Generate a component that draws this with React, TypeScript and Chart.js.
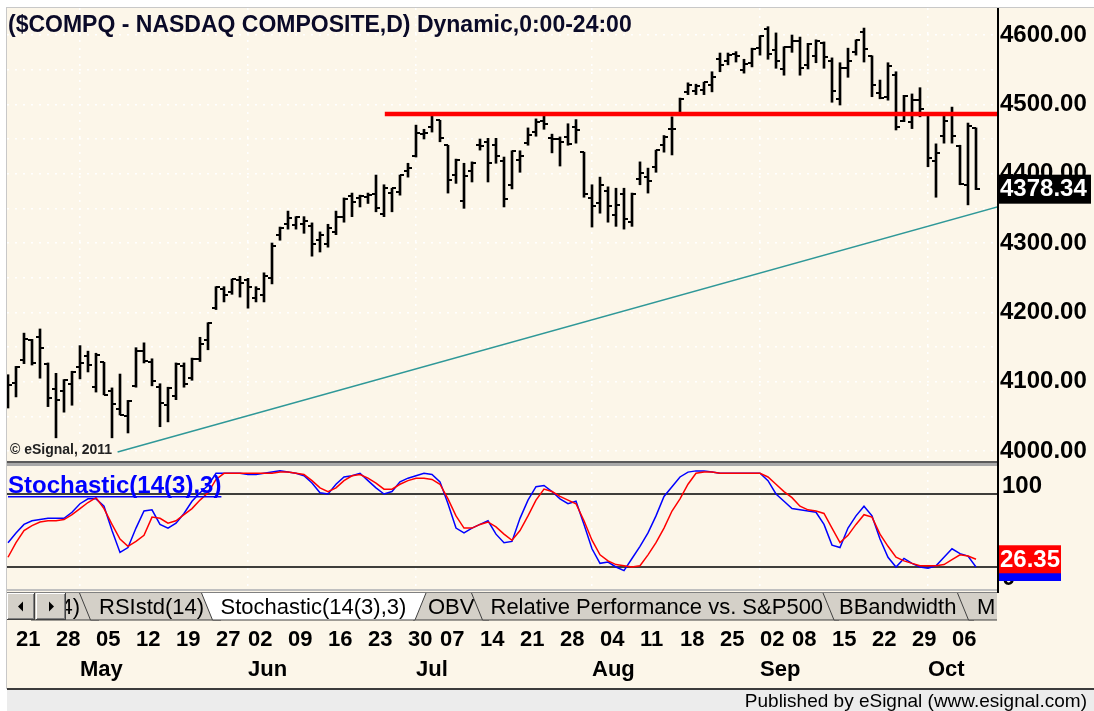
import React, { useEffect, useRef } from 'react';
import { Chart, registerables } from 'chart.js';

Chart.register(...registerables);

const FONT = '"Liberation Sans", Arial, Helvetica, sans-serif';
const BG = '#FCF6E9';

// ---------- daily OHLC, $COMPQ, Apr 17 – Oct 9 (one entry per trading day) ----------
const opens = [
  4080, 4098, 4131, 4160, 4165, 4125, 4090, 4086, 4097, 4121,
  4137, 4092, 4128, 4087, 4061, 4050, 4094, 4144, 4128, 4093,
  4067, 4080, 4122, 4105, 4133, 4160, 4206, 4233, 4230, 4247,
  4247, 4220, 4225, 4250, 4312, 4328, 4326, 4328, 4325, 4304,
  4298, 4316, 4337, 4368, 4365, 4367, 4370, 4342, 4372, 4373,
  4404, 4426, 4457, 4468, 4477, 4441, 4398, 4360, 4404, 4442,
  4446, 4441, 4418, 4383, 4420, 4444, 4460, 4476, 4452, 4450,
  4453, 4468, 4431, 4365, 4357, 4375, 4340, 4370, 4330, 4392,
  4395, 4410, 4442, 4465, 4488, 4518, 4519, 4521, 4528, 4565,
  4563, 4572, 4549, 4560, 4581, 4608, 4578, 4551, 4582, 4592,
  4557, 4570, 4588, 4563, 4508, 4553, 4576, 4604, 4570, 4516,
  4510, 4543, 4476, 4475, 4506, 4487, 4418, 4455, 4486, 4440,
  4384, 4466,
];
const highs = [
  4110, 4122, 4170, 4161, 4176, 4127, 4112, 4103, 4115, 4152,
  4144, 4141, 4128, 4091, 4111, 4073, 4149, 4156, 4133, 4097,
  4092, 4127, 4127, 4134, 4164, 4185, 4237, 4237, 4248, 4252,
  4249, 4237, 4257, 4300, 4323, 4346, 4338, 4338, 4329, 4316,
  4327, 4346, 4365, 4372, 4369, 4372, 4398, 4384, 4379, 4398,
  4415, 4470, 4464, 4486, 4477, 4441, 4421, 4415, 4417, 4450,
  4451, 4451, 4424, 4433, 4433, 4466, 4479, 4485, 4457, 4453,
  4472, 4478, 4431, 4384, 4395, 4381, 4379, 4379, 4372, 4417,
  4408, 4434, 4455, 4482, 4509, 4531, 4529, 4532, 4547, 4574,
  4574, 4576, 4565, 4581, 4599, 4612, 4603, 4583, 4600, 4597,
  4588, 4593, 4590, 4567, 4560, 4581, 4593, 4610, 4570, 4535,
  4560, 4547, 4513, 4515, 4524, 4488, 4443, 4488, 4496, 4441,
  4473, 4466,
];
const lows = [
  4062, 4078, 4126, 4124, 4105, 4064, 4019, 4056, 4066, 4104,
  4114, 4085, 4081, 4019, 4052, 4026, 4092, 4127, 4094, 4035,
  4042, 4074, 4092, 4102, 4129, 4146, 4204, 4215, 4226, 4222,
  4206, 4215, 4215, 4241, 4304, 4320, 4320, 4314, 4281, 4287,
  4294, 4312, 4330, 4338, 4352, 4357, 4345, 4338, 4345, 4369,
  4395, 4424, 4450, 4460, 4446, 4372, 4386, 4350, 4388, 4434,
  4388, 4415, 4352, 4378, 4402, 4441, 4454, 4464, 4430, 4411,
  4441, 4444, 4366, 4323, 4343, 4330, 4324, 4320, 4324, 4384,
  4372, 4402, 4431, 4427, 4485, 4514, 4514, 4514, 4518, 4547,
  4557, 4561, 4545, 4554, 4571, 4565, 4552, 4542, 4575, 4542,
  4551, 4560, 4552, 4503, 4499, 4539, 4571, 4561, 4511, 4508,
  4506, 4463, 4475, 4465, 4482, 4410, 4366, 4444, 4444, 4384,
  4355, 4377,
];
const closes = [
  4095, 4121, 4161, 4127, 4148, 4076, 4074, 4103, 4114, 4127,
  4124, 4138, 4081, 4068, 4052, 4072, 4144, 4130, 4101, 4069,
  4091, 4126, 4097, 4132, 4154, 4185, 4237, 4225, 4248, 4243,
  4237, 4234, 4252, 4296, 4321, 4336, 4338, 4332, 4298, 4311,
  4321, 4337, 4363, 4359, 4368, 4369, 4350, 4380, 4379, 4398,
  4408, 4459, 4458, 4486, 4452, 4391, 4419, 4396, 4415, 4440,
  4416, 4426, 4363, 4432, 4425, 4456, 4474, 4472, 4450, 4445,
  4443, 4463, 4370, 4353, 4384, 4353, 4355, 4335, 4371, 4401,
  4389, 4434, 4453, 4465, 4508, 4528, 4526, 4532, 4539, 4557,
  4571, 4570, 4558, 4580, 4598, 4573, 4562, 4583, 4592, 4552,
  4587, 4592, 4568, 4519, 4553, 4562, 4593, 4580, 4528, 4509,
  4555, 4467, 4512, 4506, 4493, 4422, 4430, 4476, 4455, 4385,
  4469, 4378.34,
];

// ---------- Stochastic(14(3),3): %K (blue) and %D (red) ----------
const stochK = [
  40, 48, 55, 58, 59, 60, 60, 60, 65, 72,
  76, 76, 70, 50, 32, 36, 52, 66, 67, 55,
  52, 56, 64, 74, 81, 87, 97, 97, 97, 97,
  96, 96, 97, 98, 99, 98, 97, 95, 89, 81,
  80, 88, 94, 95, 97, 91, 85, 80, 82, 90,
  93, 95, 97, 96, 90, 72, 52, 48, 52, 55,
  58, 47, 40, 41, 60, 75, 86, 87, 82, 76,
  72, 74, 55, 35, 23, 24, 20, 17, 27, 37,
  48, 62, 78, 86, 94, 98, 99, 99, 98, 97,
  97, 97, 97, 97, 97, 91, 80, 74, 68, 67,
  66, 65, 55, 38, 36, 52, 62, 70, 62, 43,
  28, 20, 27, 23, 20, 19, 21, 28, 35, 31,
  29, 20,
];
const stochD = [
  28, 40, 50, 54, 57, 58, 58, 59, 63, 68,
  73, 77, 68, 55, 43, 37, 41, 46, 61, 60,
  56, 58, 63, 68, 75, 81, 92, 97, 97, 97,
  97, 97, 97, 97, 98, 98, 97, 96, 91, 85,
  82, 85, 91, 95, 96, 93, 89, 84, 84, 88,
  91, 93, 93, 92, 88, 76, 62, 52, 52, 55,
  57, 53, 47, 42, 50, 62, 75, 84, 82, 78,
  75, 72, 58, 42, 30, 25, 22, 21, 20, 21,
  30, 40, 52, 66, 76, 88, 97, 98, 98, 97,
  97, 97, 97, 97, 97, 94, 88, 82, 77, 70,
  67, 66, 64, 52, 40, 46, 55, 63, 61, 47,
  37, 28, 25, 23, 21, 21, 21, 22, 26, 30,
  29, 26.35,
];

// ---------- axis labels (positions are trading-day indexes) ----------
const weekTickIdx = [1, 6, 11, 16, 21, 26, 30, 35, 40, 45, 50, 54, 59, 64, 69, 74, 79, 84, 89, 94, 98, 103, 108, 113, 118];
const weekTickLabels = ['21', '28', '05', '12', '19', '27', '02', '09', '16', '23', '30', '07', '14', '21', '28', '04', '11', '18', '25', '02', '08', '15', '22', '29', '06'];
const monthTickIdx = [9, 30, 51, 73, 94, 115];
const monthTickLabels = ['May', 'Jun', 'Jul', 'Aug', 'Sep', 'Oct'];
const priceTickValues = [4000, 4050, 4100, 4150, 4200, 4250, 4300, 4350, 4400, 4450, 4500, 4550, 4600];
const stochTickValues = [100, 0];

// ---------- drawn studies ----------
const resistanceLine = [{ x: 47.1, y: 4486 }, { x: 124, y: 4486 }];
const trendLine = [{ x: 13.7, y: 3998.5 }, { x: 124, y: 4353 }];
const stochUpper = [{ x: -1, y: 80 }, { x: 125, y: 80 }];
const stochLower = [{ x: -1, y: 20 }, { x: 125, y: 20 }];

const TITLE = '($COMPQ - NASDAQ COMPOSITE,D) Dynamic,0:00-24:00';

function makeTick(side: 'left' | 'right') {
  const c = document.createElement('canvas');
  c.width = 10;
  c.height = 2;
  const g = c.getContext('2d')!;
  g.fillStyle = '#000';
  if (side === 'left') g.fillRect(1, 0, 4, 2);
  else g.fillRect(5, 0, 4, 2);
  return c;
}

const decorPlugin = {
  id: 'decor',
  beforeDraw(chart: any) {
    const ctx = chart.ctx;
    const W = chart.width;
    const H = chart.height;
    ctx.save();
    ctx.fillStyle = '#FFFFFF';
    ctx.fillRect(0, 0, W, H);
    ctx.fillStyle = BG;
    ctx.fillRect(7, 8, W - 7, 680);
    ctx.fillStyle = '#C8C8C8';
    ctx.fillRect(6, 7, W - 6, 1);
    ctx.fillRect(6, 7, 1, 682);
    ctx.fillStyle = '#ECECEC';
    ctx.fillRect(7, 690, W - 7, H - 690);
    ctx.fillStyle = '#3C3C3C';
    ctx.fillRect(7, 688, W - 7, 2);
    ctx.restore();
  },
  beforeDatasetsDraw(chart: any) {
    const ctx = chart.ctx;
    ctx.save();
    ctx.fillStyle = '#5A5A5A';
    ctx.fillRect(7, 461, 991, 2);
    ctx.fillStyle = '#A8A8A8';
    ctx.fillRect(7, 463, 991, 3);
    ctx.fillStyle = '#C0C0C0';
    ctx.fillRect(7, 589, 991, 2);
    ctx.restore();
    ctx.imageSmoothingEnabled = false;
  },
  afterDraw(chart: any) {
    const ctx = chart.ctx;
    const yP = chart.scales.yPrice;
    const yS = chart.scales.yStoch;
    ctx.save();
    ctx.textAlign = 'left';

    // title
    ctx.fillStyle = '#0A0A28';
    ctx.font = `bold 23px ${FONT}`;
    ctx.textBaseline = 'alphabetic';
    ctx.fillText(TITLE, 8, 32);

    // copyright
    ctx.fillStyle = '#222';
    ctx.font = `bold 14px ${FONT}`;
    ctx.fillText('\u00A9 eSignal, 2011', 10, 454);

    // stochastic label
    ctx.fillStyle = '#0000FF';
    ctx.font = `bold 24px ${FONT}`;
    const st = 'Stochastic(14(3),3)';
    ctx.fillText(st, 8, 493);
    const sw = ctx.measureText(st).width;
    ctx.fillRect(8, 496, sw, 1.5);

    // price axis line
    ctx.fillStyle = '#000';
    ctx.fillRect(997, 8, 2, 585);

    // stochastic axis labels (eSignal draws them below their level)
    ctx.fillStyle = '#000';
    ctx.font = `bold 24px ${FONT}`;
    ctx.textBaseline = 'middle';
    stochTickValues.forEach((v) => {
      const py = yS.getPixelForValue(v);
      ctx.fillText(String(v), 1002, v === 0 ? py - 13 : py + 17);
    });

    // last price box
    const lastClose = closes[closes.length - 1];
    const cy = yP.getPixelForValue(lastClose);
    ctx.fillStyle = '#000';
    ctx.fillRect(998, cy - 14, 93, 29);
    ctx.fillStyle = '#FFF';
    ctx.font = `bold 24px ${FONT}`;
    ctx.textBaseline = 'middle';
    ctx.fillText(lastClose.toFixed(2), 1000, cy + 1);

    // stochastic value boxes
    const lastK = stochK[stochK.length - 1];
    const lastD = stochD[stochD.length - 1];
    const ky = yS.getPixelForValue(lastK);
    const dy = yS.getPixelForValue(lastD);
    ctx.fillStyle = '#0000FF';
    ctx.fillRect(999, ky - 14, 62, 28);
    ctx.fillStyle = '#FF0000';
    ctx.fillRect(999, dy - 14, 62, 28);
    ctx.fillStyle = '#FFF';
    ctx.fillText(lastD.toFixed(2), 1000, dy + 1);

    // tabs strip
    const T = 593;
    const B = 620;
    const S = 11;
    ctx.save();
    ctx.beginPath();
    ctx.rect(7, T - 2, 990, B - T + 4);
    ctx.clip();
    ctx.fillStyle = '#808080';
    ctx.fillRect(7, T - 1, 990, 1);
    ctx.font = `22px ${FONT}`;
    ctx.textBaseline = 'middle';
    const tab = (xl: number, xr: number, fill: string, text: string, tx: number, align: any) => {
      ctx.beginPath();
      ctx.moveTo(xl, T);
      ctx.lineTo(xl + S, B);
      ctx.lineTo(xr - S, B);
      ctx.lineTo(xr, T);
      ctx.closePath();
      ctx.fillStyle = fill;
      ctx.fill();
      ctx.strokeStyle = '#404040';
      ctx.lineWidth = 1;
      ctx.beginPath();
      ctx.moveTo(xl, T);
      ctx.lineTo(xl + S, B);
      ctx.lineTo(xr - S, B);
      ctx.lineTo(xr, T);
      ctx.stroke();
      ctx.fillStyle = '#000';
      ctx.textAlign = align;
      ctx.fillText(text, tx, (T + B) / 2 + 1);
    };
    const GRAY = '#D4D0C8';
    tab(20, 110, GRAY, '(14)', 80, 'right');
    tab(79.5, 232, GRAY, 'RSIstd(14)', 99, 'left');
    tab(402, 500, GRAY, 'OBV', 428, 'left');
    tab(471.5, 850, GRAY, 'Relative Performance vs. S&P500', 490.5, 'left');
    tab(823, 985, GRAY, 'BBandwidth', 839, 'left');
    tab(957.5, 1040, GRAY, 'M', 977, 'left');
    tab(201.5, 426, '#FFFFFF', 'Stochastic(14(3),3)', 220.5, 'left');
    // scroll buttons
    const btn = (x: number, w: number, dir: number) => {
      ctx.fillStyle = GRAY;
      ctx.fillRect(x, T, w, B - T);
      ctx.fillStyle = '#FFFFFF';
      ctx.fillRect(x, T, w, 1);
      ctx.fillRect(x, T, 1, B - T);
      ctx.fillStyle = '#404040';
      ctx.fillRect(x, B - 1, w, 1);
      ctx.fillRect(x + w - 1, T, 1, B - T);
      ctx.fillStyle = '#808080';
      ctx.fillRect(x + 1, B - 2, w - 2, 1);
      ctx.fillRect(x + w - 2, T + 1, 1, B - T - 2);
      const cx = x + w / 2;
      const cyy = (T + B) / 2;
      ctx.fillStyle = '#000';
      ctx.beginPath();
      if (dir < 0) {
        ctx.moveTo(cx - 3, cyy);
        ctx.lineTo(cx + 2, cyy - 5);
        ctx.lineTo(cx + 2, cyy + 5);
      } else {
        ctx.moveTo(cx + 3, cyy);
        ctx.lineTo(cx - 2, cyy - 5);
        ctx.lineTo(cx - 2, cyy + 5);
      }
      ctx.closePath();
      ctx.fill();
    };
    btn(7, 28, -1);
    btn(36, 30, 1);
    ctx.restore();

    // footer
    ctx.fillStyle = '#000';
    ctx.font = `19px ${FONT}`;
    ctx.textAlign = 'right';
    ctx.textBaseline = 'alphabetic';
    ctx.fillText('Published by eSignal (www.esignal.com)', 1087, 707);
    ctx.restore();
  },
};

export default function App() {
  const ref = useRef<HTMLCanvasElement>(null);

  useEffect(() => {
    const canvas = ref.current;
    if (!canvas) return;
    Chart.defaults.font.family = FONT;

    const openTick = makeTick('left');
    const closeTick = makeTick('right');
    const idx = closes.map((_, i) => i);

    const xMin = -0.125;
    const xMax = 123.75;
    const priceMin = 3798.07;
    const priceMax = 4638.94;
    const stochMin = 0.27;
    const stochMax = 479.45;

    const chart = new Chart(canvas, {
      type: 'bar',
      plugins: [decorPlugin],
      data: {
        datasets: [
          {
            type: 'line',
            data: resistanceLine,
            xAxisID: 'x',
            yAxisID: 'yPrice',
            borderColor: '#FF0000',
            borderWidth: 4.5,
            pointRadius: 0,
            order: 0,
          },
          {
            type: 'line',
            data: trendLine,
            xAxisID: 'x',
            yAxisID: 'yPrice',
            borderColor: '#2F9898',
            borderWidth: 1.5,
            pointRadius: 0,
            order: 0,
          },
          {
            type: 'scatter',
            data: idx.map((i) => ({ x: i, y: opens[i] })),
            xAxisID: 'x',
            yAxisID: 'yPrice',
            pointStyle: openTick,
            pointRadius: 3,
            order: 1,
          },
          {
            type: 'scatter',
            data: idx.map((i) => ({ x: i, y: closes[i] })),
            xAxisID: 'x',
            yAxisID: 'yPrice',
            pointStyle: closeTick,
            pointRadius: 3,
            order: 1,
          },
          {
            type: 'bar',
            data: idx.map((i) => ({ x: i, y: [lows[i], highs[i]] })),
            xAxisID: 'x',
            yAxisID: 'yPrice',
            backgroundColor: '#000000',
            borderWidth: 0,
            barThickness: 2,
            grouped: false,
            order: 2,
          },
          {
            type: 'line',
            data: stochD.map((v, i) => ({ x: i, y: v })),
            xAxisID: 'x',
            yAxisID: 'yStoch',
            borderColor: '#FF0000',
            borderWidth: 1.5,
            pointRadius: 0,
            tension: 0,
            order: 3,
          },
          {
            type: 'line',
            data: stochK.map((v, i) => ({ x: i, y: v })),
            xAxisID: 'x',
            yAxisID: 'yStoch',
            borderColor: '#0000FF',
            borderWidth: 1.5,
            pointRadius: 0,
            tension: 0,
            order: 4,
          },
          {
            type: 'line',
            data: stochUpper,
            xAxisID: 'x',
            yAxisID: 'yStoch',
            borderColor: '#000000',
            borderWidth: 1.5,
            pointRadius: 0,
            order: 5,
          },
          {
            type: 'line',
            data: stochLower,
            xAxisID: 'x',
            yAxisID: 'yStoch',
            borderColor: '#000000',
            borderWidth: 1.5,
            pointRadius: 0,
            order: 5,
          },
        ] as any,
      },
      options: {
        responsive: false,
        animation: false,
        devicePixelRatio: 1,
        events: [],
        layout: { padding: { left: 7, top: 8, right: 0, bottom: 23 } },
        plugins: {
          legend: { display: false },
          tooltip: { enabled: false },
        },
        scales: {
          x: {
            type: 'linear',
            position: 'bottom',
            weight: 0,
            min: xMin,
            max: xMax,
            offset: false,
            grid: { display: false, drawTicks: false, offset: false },
            border: { display: false },
            afterBuildTicks: (s: any) => {
              s.ticks = weekTickIdx.map((v) => ({ value: v }));
            },
            afterFit: (s: any) => {
              s.height = 62;
            },
            ticks: {
              autoSkip: false,
              maxRotation: 0,
              minRotation: 0,
              align: 'start',
              padding: 0,
              color: '#000',
              font: { family: FONT, size: 22, weight: 'bold', lineHeight: '98px' },
              callback: (v: any) => {
                const k = weekTickIdx.indexOf(v);
                return k >= 0 ? weekTickLabels[k] : '';
              },
            },
          },
          xMonth: {
            type: 'linear',
            position: 'bottom',
            weight: 1,
            min: xMin,
            max: xMax,
            offset: false,
            grid: { display: true, drawTicks: false, offset: false, color: '#FFFFFF', lineWidth: 1.5 },
            border: { display: false, dash: [2, 6] },
            afterBuildTicks: (s: any) => {
              s.ticks = monthTickIdx.map((v) => ({ value: v }));
            },
            afterFit: (s: any) => {
              s.height = 35;
            },
            ticks: {
              autoSkip: false,
              maxRotation: 0,
              minRotation: 0,
              align: 'start',
              padding: 0,
              color: '#000',
              font: { family: FONT, size: 22, weight: 'bold', lineHeight: '34px' },
              callback: (v: any) => {
                const k = monthTickIdx.indexOf(v);
                return k >= 0 ? monthTickLabels[k] : '';
              },
            },
          },
          yStoch: {
            type: 'linear',
            position: 'right',
            weight: 0,
            min: stochMin,
            max: stochMax,
            beginAtZero: false,
            grid: { display: false, drawTicks: false },
            border: { display: false },
            afterBuildTicks: (s: any) => {
              s.ticks = stochTickValues.map((v) => ({ value: v }));
            },
            afterFit: (s: any) => {
              s.width = 0;
            },
            ticks: { display: false },
          },
          yPrice: {
            type: 'linear',
            position: 'right',
            weight: 1,
            min: priceMin,
            max: priceMax,
            beginAtZero: false,
            grid: { display: true, drawTicks: false, color: '#FFFFFF', lineWidth: 1.5 },
            border: { display: false, dash: [2, 6] },
            afterBuildTicks: (s: any) => {
              s.ticks = priceTickValues.map((v) => ({ value: v }));
            },
            afterFit: (s: any) => {
              s.width = 96;
            },
            ticks: {
              padding: 2,
              color: '#000',
              font: { family: FONT, size: 24, weight: 'bold', lineHeight: '2px' },
              callback: (v: any) => (v % 100 === 0 ? Number(v).toFixed(2) : ''),
            },
          },
        },
      } as any,
    });

    return () => chart.destroy();
  }, []);

  return (
    <div style={{ position: 'absolute', left: 0, top: 0, width: 1094, height: 711 }}>
      <canvas ref={ref} width={1094} height={711} style={{ display: 'block', width: 1094, height: 711 }} />
    </div>
  );
}
